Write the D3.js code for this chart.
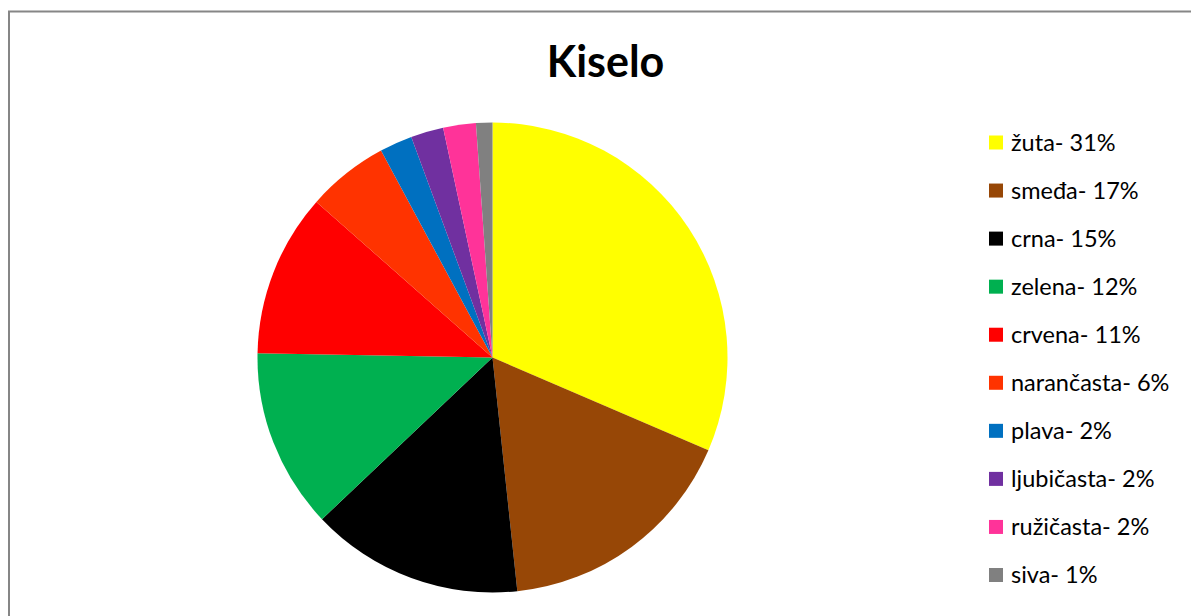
<!DOCTYPE html>
<html>
<head>
<meta charset="utf-8">
<script src="https://cdn.jsdelivr.net/npm/d3@7"></script>
<style>
  html, body { margin: 0; padding: 0; background: #fff; }
  svg { display: block; }
</style>
</head>
<body>
<svg id="chart" width="1191" height="616"></svg>
<script>
// ---- data ----
const title = "Kiselo";
const categories = ["žuta", "smeđa", "crna", "zelena", "crvena", "narančasta", "plava", "ljubičasta", "ružičasta", "siva"];
const counts = [28, 15, 13, 11, 10, 5, 2, 2, 2, 1];
const percentLabels = ["31%", "17%", "15%", "12%", "11%", "6%", "2%", "2%", "2%", "1%"];
const colors = ["#FFFF00", "#974706", "#000000", "#00B050", "#FF0000", "#FF3300", "#0070C0", "#7030A0", "#FF3399", "#808080"];

// ---- layout ----
const svg = d3.select("#chart");
const cx = 492.5, cy = 357.5, R = 235;

// frame
svg.append("rect")
  .attr("x", 9).attr("y", 11.5)
  .attr("width", 1400).attr("height", 800)
  .attr("fill", "none")
  .attr("stroke", "#868686")
  .attr("stroke-width", 2);

// title
svg.append("text")
  .attr("x", 605.5).attr("y", 77)
  .attr("text-anchor", "middle")
  .attr("font-family", "Lato, 'Open Sans', sans-serif")
  .attr("font-weight", "bold")
  .attr("font-size", 43)
  .attr("fill", "#000")
  .text(title);

// pie
const data = categories.map((c, i) => ({ name: c, value: counts[i], color: colors[i], pct: percentLabels[i] }));
const pie = d3.pie().value(d => d.value).sort(null);
const arc = d3.arc().innerRadius(0).outerRadius(R);
const g = svg.append("g").attr("transform", `translate(${cx},${cy})`);
g.selectAll("path")
  .data(pie(data))
  .join("path")
  .attr("d", arc)
  .attr("fill", d => d.data.color);

// legend
const legendY = d3.scalePoint().domain(categories).range([142.5, 575]);
const lg = svg.append("g");
const items = lg.selectAll("g.item").data(data).join("g")
  .attr("class", "item")
  .attr("transform", d => `translate(989,${legendY(d.name)})`);
items.append("rect")
  .attr("x", 0).attr("y", -7)
  .attr("width", 14).attr("height", 14)
  .attr("fill", d => d.color);
items.append("text")
  .attr("x", 22).attr("y", 0).attr("dy", "0.36em")
  .attr("font-family", "Lato, 'Open Sans', sans-serif")
  .attr("font-size", 23.5)
  .attr("fill", "#000")
  .text(d => `${d.name}- ${d.pct}`);
</script>
</body>
</html>
